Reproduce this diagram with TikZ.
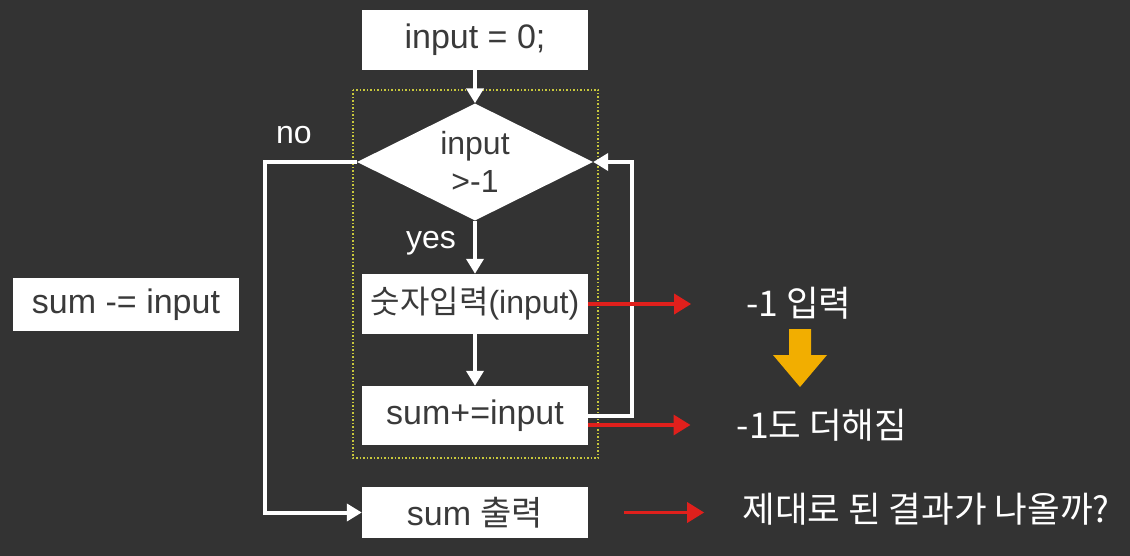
\documentclass[tikz,border=0pt]{standalone}
\usepackage{fontspec}
\setmainfont{Liberation Sans}
\newfontfamily\kr{Noto Sans CJK KR}
\usetikzlibrary{arrows.meta,shapes.geometric,positioning}

\definecolor{bgcol}{HTML}{333333}
\definecolor{boxtxt}{HTML}{3A3A3A}
\definecolor{loopyel}{HTML}{C8C83C}
\definecolor{redarr}{HTML}{E0201C}
\definecolor{amber}{HTML}{F2AE00}

\tikzset{
  procbox/.style={fill=white, text=boxtxt, minimum width=226pt, minimum height=60pt,
    inner sep=0pt, font=\fontsize{34}{40}\selectfont},
  decide/.style={diamond, fill=white, text=boxtxt, minimum width=236pt, minimum height=117pt,
    aspect=2, inner sep=0pt, align=center, font=\fontsize{32}{38}\selectfont},
  note/.style={text=white, inner sep=0pt, font=\fontsize{32}{38}\selectfont},
  krnote/.style={note, font=\kr\fontsize{35.5}{40}\selectfont},
  flow/.style={draw=white, line width=4pt, -{Triangle[length=15pt,width=17pt]}},
  redflow/.style={draw=redarr, line width=3.5pt, -{Triangle[length=17pt,width=20pt]}},
}

\begin{document}
\begin{tikzpicture}[x=1pt,y=-1pt]
  \fill[bgcol] (0,0) rectangle (1130,556);
  \useasboundingbox (0,0) rectangle (1130,556);

  % loop frame
  \draw[loopyel, line width=1.5pt, dotted] (353,90) rectangle (598,458);

  % flow chart
  \node[procbox] (init) at (475,40) {input = 0;};
  \node[decide] (cond) at (475,162) {input\\>-1};
  \node[procbox, font=\fontsize{32}{38}\selectfont] (readin) at (475,304) {{\kr 숫자입력}(input)};
  \node[procbox, minimum height=59pt] (sumadd) at (475,415.5) {sum+=input};
  \node[procbox, minimum height=51pt] (sumout) at (475,512.5) {sum {\kr 출력}};
  \node[procbox, minimum height=53pt] (sumsub) at (126,304.5) {sum -= input};

  \node[note] (nolbl) at (294,135) {no};
  \node[note] (yeslbl) at (431,243) {yes};

  \coordinate (loopc) at (632,162);
  \coordinate (noc) at (265,162);

  \draw[flow] (init) -- (cond);
  \draw[flow] (cond) -- (readin);
  \draw[flow] (readin) -- (sumadd);
  \draw[flow] (sumadd.east) -| (loopc) -- (cond.east);
  \draw[flow] (cond.west) -- (noc) |- (sumout.west);

  % remarks
  \node[krnote] (inptxt) at (799,303) {-1 입력};
  \node[krnote] (addtxt) at (822,425) {-1도 더해짐};
  \node[krnote] (question) at (926,509) {제대로 된 결과가 나올까?};

  \draw[redflow, shorten >=55pt] (readin.east) -- (readin.east -| inptxt.west);
  \draw[redflow, shorten >=46pt] (sumadd.east |- addtxt.west) -- (addtxt.west);
  \draw[redflow, shorten <=36pt, shorten >=38pt] (sumout.east) -- (sumout.east -| question.west);

  % down arrow
  \fill[amber] (789,329) -- (811,329) -- (811,355) -- (827,355) -- (800,387)
    -- (773,355) -- (789,355) -- cycle;
\end{tikzpicture}
\end{document}
